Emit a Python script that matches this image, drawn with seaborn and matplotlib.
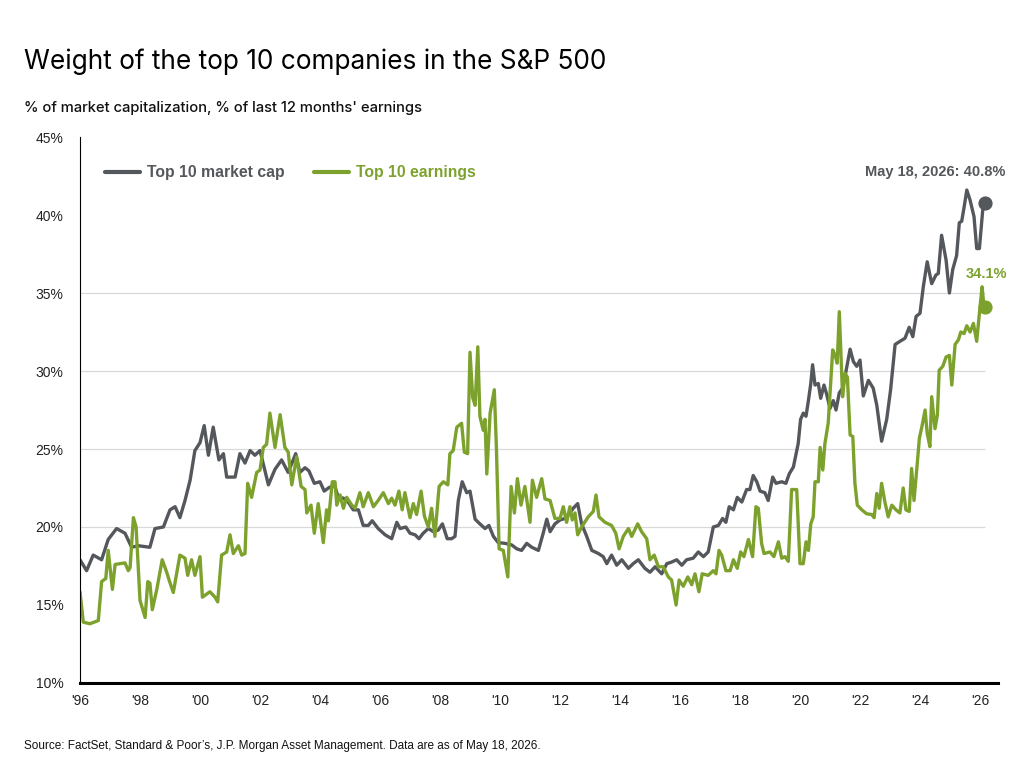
import pandas as pd
import matplotlib.pyplot as plt
import seaborn as sns
from matplotlib.ticker import FixedLocator

# Top 10 market cap, % of S&P 500 market capitalization
cap_years = [
    1996.00, 1996.22, 1996.44, 1996.72, 1996.94, 1997.22, 1997.50, 1997.72, 1997.94, 1998.33,
    1998.50, 1998.78, 1999.00, 1999.17, 1999.33, 1999.50, 1999.67, 1999.83, 2000.00, 2000.14,
    2000.28, 2000.44, 2000.63, 2000.78, 2000.89, 2001.17, 2001.33, 2001.50, 2001.67, 2001.83,
    2002.00, 2002.28, 2002.50, 2002.72, 2002.94, 2003.19, 2003.33, 2003.50, 2003.63, 2003.81,
    2004.00, 2004.14, 2004.28, 2004.48, 2004.61, 2004.78, 2004.94, 2005.11, 2005.28, 2005.44,
    2005.61, 2005.74, 2005.94, 2006.17, 2006.39, 2006.56, 2006.67, 2006.86, 2007.00, 2007.17,
    2007.30, 2007.44, 2007.61, 2007.78, 2007.94, 2008.08, 2008.24, 2008.39, 2008.50, 2008.61,
    2008.74, 2008.89, 2009.00, 2009.17, 2009.33, 2009.50, 2009.63, 2009.78, 2009.94, 2010.17,
    2010.39, 2010.56, 2010.72, 2010.89, 2011.06, 2011.28, 2011.44, 2011.56, 2011.67, 2011.83,
    2012.00, 2012.17, 2012.33, 2012.44, 2012.59, 2012.72, 2012.89, 2013.06, 2013.28, 2013.44,
    2013.56, 2013.72, 2013.89, 2014.06, 2014.28, 2014.44, 2014.61, 2014.83, 2015.00, 2015.17,
    2015.39, 2015.56, 2015.72, 2015.89, 2016.06, 2016.22, 2016.44, 2016.61, 2016.78, 2016.94,
    2017.11, 2017.28, 2017.42, 2017.53, 2017.64, 2017.78, 2017.91, 2018.06, 2018.22, 2018.33,
    2018.44, 2018.56, 2018.67, 2018.83, 2018.94, 2019.09, 2019.20, 2019.39, 2019.53, 2019.64,
    2019.78, 2019.89, 2019.94, 2020.02, 2020.11, 2020.20, 2020.28, 2020.36, 2020.42, 2020.50,
    2020.61, 2020.69, 2020.80, 2020.89, 2021.00, 2021.11, 2021.20, 2021.31, 2021.42, 2021.53,
    2021.67, 2021.78, 2021.89, 2022.00, 2022.11, 2022.28, 2022.44, 2022.56, 2022.72, 2022.89,
    2023.02, 2023.17, 2023.33, 2023.50, 2023.64, 2023.76, 2023.87, 2024.00, 2024.11, 2024.24,
    2024.39, 2024.53, 2024.61, 2024.72, 2024.87, 2024.98, 2025.09, 2025.22, 2025.31, 2025.39,
    2025.47, 2025.56, 2025.67, 2025.80, 2025.89, 2025.98, 2026.09, 2026.17,
]
cap_values = [
    17.9, 17.2, 18.2, 17.9, 19.2, 19.9, 19.6, 18.7, 18.8, 18.7,
    19.9, 20.0, 21.1, 21.3, 20.6, 21.7, 23.0, 24.9, 25.4, 26.5,
    24.6, 26.4, 24.3, 24.7, 23.2, 23.2, 24.7, 24.1, 24.9, 24.6,
    24.9, 22.7, 23.7, 24.3, 23.5, 24.7, 23.5, 23.8, 23.6, 22.8,
    22.9, 22.3, 22.5, 22.7, 21.9, 21.85, 21.6, 21.1, 21.1, 20.1,
    20.1, 20.4, 19.9, 19.5, 19.25, 20.3, 19.9, 20.0, 19.6, 19.5,
    19.25, 19.6, 19.9, 19.7, 19.8, 20.2, 19.25, 19.25, 19.4, 21.7,
    22.9, 22.2, 22.3, 20.5, 20.2, 19.9, 20.1, 19.4, 19.0, 18.95,
    18.85, 18.6, 18.5, 18.95, 18.7, 18.5, 19.6, 20.5, 19.7, 20.2,
    20.45, 20.55, 20.9, 21.2, 21.5, 20.2, 19.4, 18.5, 18.3, 18.1,
    17.65, 18.2, 17.55, 17.9, 17.35, 17.65, 17.9, 17.35, 17.1, 17.45,
    17.0, 17.65, 17.75, 17.9, 17.55, 17.9, 18.0, 18.4, 18.1, 18.4,
    20.0, 20.1, 20.55, 20.3, 21.3, 21.1, 21.9, 21.6, 22.4, 22.4,
    23.3, 22.9, 22.3, 22.2, 21.7, 23.2, 22.8, 22.9, 22.8, 23.4,
    23.85, 24.9, 25.35, 26.9, 27.3, 27.1, 28.1, 29.2, 30.4, 29.1,
    29.2, 28.25, 29.1, 28.5, 27.6, 28.1, 27.5, 28.6, 28.9, 29.95,
    31.4, 30.6, 30.3, 30.7, 28.4, 29.4, 28.9, 27.8, 25.5, 26.9,
    28.8, 31.7, 31.9, 32.1, 32.8, 32.2, 33.5, 33.7, 35.4, 37.0,
    35.6, 36.15, 36.25, 38.7, 37.1, 35.0, 36.5, 37.4, 39.5, 39.6,
    40.5, 41.6, 40.95, 39.9, 37.85, 37.85, 40.3, 40.8,
]

# Top 10 earnings, % of S&P 500 last 12 months' earnings
earn_years = [
    1996.00, 1996.11, 1996.33, 1996.61, 1996.72, 1996.86, 1996.94, 1997.08, 1997.17, 1997.50,
    1997.61, 1997.67, 1997.78, 1997.87, 1998.00, 1998.17, 1998.26, 1998.33, 1998.41, 1998.56,
    1998.74, 1998.89, 1998.97, 1999.11, 1999.33, 1999.50, 1999.59, 1999.72, 1999.83, 2000.00,
    2000.08, 2000.33, 2000.50, 2000.59, 2000.72, 2000.89, 2001.00, 2001.11, 2001.28, 2001.39,
    2001.50, 2001.59, 2001.72, 2001.89, 2002.00, 2002.11, 2002.22, 2002.33, 2002.50, 2002.67,
    2002.83, 2002.94, 2003.06, 2003.22, 2003.37, 2003.50, 2003.56, 2003.70, 2003.81, 2003.94,
    2004.11, 2004.22, 2004.28, 2004.41, 2004.50, 2004.56, 2004.67, 2004.78, 2004.89, 2005.06,
    2005.17, 2005.33, 2005.44, 2005.61, 2005.78, 2005.94, 2006.11, 2006.28, 2006.39, 2006.50,
    2006.63, 2006.74, 2006.83, 2007.00, 2007.11, 2007.22, 2007.37, 2007.48, 2007.61, 2007.72,
    2007.83, 2007.97, 2008.11, 2008.26, 2008.33, 2008.44, 2008.56, 2008.72, 2008.81, 2008.92,
    2009.00, 2009.09, 2009.17, 2009.26, 2009.33, 2009.44, 2009.50, 2009.56, 2009.67, 2009.81,
    2009.88, 2009.97, 2010.11, 2010.26, 2010.37, 2010.48, 2010.58, 2010.70, 2010.83, 2011.00,
    2011.08, 2011.22, 2011.39, 2011.50, 2011.67, 2011.83, 2012.00, 2012.11, 2012.22, 2012.33,
    2012.41, 2012.50, 2012.59, 2012.72, 2012.94, 2013.11, 2013.20, 2013.30, 2013.50, 2013.72,
    2013.86, 2013.97, 2014.11, 2014.28, 2014.39, 2014.59, 2014.72, 2014.89, 2015.00, 2015.14,
    2015.28, 2015.44, 2015.61, 2015.72, 2015.87, 2015.97, 2016.11, 2016.26, 2016.39, 2016.50,
    2016.63, 2016.74, 2016.94, 2017.11, 2017.20, 2017.30, 2017.39, 2017.53, 2017.67, 2017.78,
    2017.91, 2018.02, 2018.13, 2018.28, 2018.42, 2018.53, 2018.61, 2018.72, 2018.80, 2019.00,
    2019.13, 2019.28, 2019.39, 2019.50, 2019.61, 2019.72, 2019.89, 2020.00, 2020.11, 2020.20,
    2020.28, 2020.36, 2020.44, 2020.50, 2020.61, 2020.67, 2020.76, 2020.83, 2020.94, 2021.02,
    2021.09, 2021.17, 2021.24, 2021.31, 2021.42, 2021.50, 2021.58, 2021.67, 2021.76, 2021.83,
    2021.91, 2022.06, 2022.22, 2022.39, 2022.47, 2022.56, 2022.64, 2022.72, 2022.83, 2022.94,
    2023.06, 2023.20, 2023.33, 2023.44, 2023.53, 2023.64, 2023.72, 2023.80, 2023.89, 2023.98,
    2024.06, 2024.17, 2024.24, 2024.33, 2024.39, 2024.50, 2024.58, 2024.64, 2024.76, 2024.87,
    2024.98, 2025.06, 2025.17, 2025.28, 2025.36, 2025.47, 2025.56, 2025.67, 2025.78, 2025.89,
    2025.98, 2026.07, 2026.12, 2026.17,
]
earn_values = [
    15.85, 13.9, 13.8, 14.0, 16.5, 16.7, 18.5, 16.0, 17.6, 17.7,
    17.2, 17.4, 20.6, 20.0, 15.3, 14.2, 16.5, 16.4, 14.7, 16.0,
    17.9, 17.1, 16.6, 15.8, 18.2, 18.0, 16.9, 17.9, 16.9, 18.1,
    15.5, 15.85, 15.5, 15.2, 18.2, 18.4, 19.5, 18.3, 18.8, 18.2,
    18.3, 22.8, 21.9, 23.5, 23.65, 25.1, 25.3, 27.3, 25.1, 27.2,
    25.1, 24.8, 22.7, 24.5, 22.6, 22.4, 20.9, 21.4, 19.6, 21.5,
    19.0, 21.1, 20.4, 22.9, 22.9, 21.4, 22.05, 21.2, 21.9, 21.4,
    21.2, 22.2, 21.3, 22.2, 21.3, 21.7, 22.2, 21.5, 21.85, 21.4,
    22.3, 21.1, 22.2, 20.6, 21.5, 20.8, 22.3, 20.7, 20.0, 21.2,
    19.4, 22.6, 22.9, 22.7, 24.7, 24.9, 26.4, 26.65, 24.8, 24.7,
    31.2, 28.3, 27.8, 31.55, 27.1, 26.2, 26.9, 23.4, 27.3, 28.8,
    25.1, 18.6, 18.5, 16.8, 22.6, 20.9, 23.1, 21.4, 22.6, 20.3,
    23.0, 21.9, 23.1, 21.8, 21.7, 20.55, 20.55, 21.3, 20.3, 21.3,
    20.45, 20.9, 19.5, 20.0, 20.65, 21.0, 22.05, 20.65, 20.3, 20.1,
    19.6, 18.6, 19.4, 19.9, 19.4, 20.2, 19.7, 19.25, 17.9, 18.2,
    17.45, 17.45, 16.8, 16.6, 15.0, 16.6, 16.2, 16.8, 16.3, 17.0,
    15.85, 17.0, 16.9, 17.2, 17.0, 18.5, 18.2, 17.2, 17.2, 17.9,
    17.35, 18.4, 18.1, 19.2, 18.1, 21.3, 21.2, 18.95, 18.3, 18.4,
    18.1, 19.05, 18.0, 18.1, 17.8, 22.4, 22.4, 17.65, 17.65, 19.05,
    18.5, 20.2, 20.65, 22.9, 22.9, 25.1, 23.65, 25.35, 26.65, 29.2,
    31.35, 31.0, 30.5, 33.8, 28.35, 29.85, 29.6, 25.9, 25.8, 22.8,
    21.4, 21.1, 20.85, 20.8, 20.6, 22.15, 21.2, 22.8, 21.6, 20.65,
    21.4, 21.1, 20.9, 22.5, 21.1, 21.0, 23.75, 21.7, 23.65, 25.7,
    26.4, 27.5, 26.0, 25.15, 28.35, 26.3, 27.2, 30.05, 30.3, 30.9,
    31.0, 29.1, 31.7, 32.0, 32.5, 32.4, 32.9, 32.5, 33.05, 31.9,
    33.7, 35.4, 34.35, 34.1,
]

year_ticks = list(range(1996, 2027, 2))
tick_labels = ["'" + str(y)[2:] for y in year_ticks]
pct_ticks = [10, 15, 20, 25, 30, 35, 40, 45]
grid_levels = [20, 25, 30, 35]

GREY = "#54575B"
GREEN = "#7CA22D"

cap_df = pd.DataFrame({"year": cap_years, "value": cap_values})
earn_df = pd.DataFrame({"year": earn_years, "value": earn_values})

sns.set_style("white")
plt.rcParams["font.family"] = ["Liberation Sans", "DejaVu Sans"]

fig = plt.figure(figsize=(10.33, 7.75), dpi=100)
ax = fig.add_axes([80 / 1033, 1 - 683 / 775, 918 / 1033, 546 / 775])

# light horizontal guides, stopping at the last data point
ax.hlines(grid_levels, 1996, cap_years[-1], colors="#D9D9D9", linewidth=0.9, zorder=0)

sns.lineplot(data=cap_df, x="year", y="value", color=GREY, linewidth=2.4,
             label="Top 10 market cap", ax=ax, estimator=None)
sns.lineplot(data=earn_df, x="year", y="value", color=GREEN, linewidth=2.4,
             label="Top 10 earnings", ax=ax, estimator=None)

ax.scatter([cap_years[-1]], [cap_values[-1]], s=85, color=GREY, zorder=5)
ax.scatter([earn_years[-1]], [earn_values[-1]], s=85, color=GREEN, zorder=5)

ax.set_xlim(1996, 1996 + 918 / 30)
ax.set_ylim(10, 45)
ax.xaxis.set_major_locator(FixedLocator(year_ticks))
ax.set_xticklabels(tick_labels)
ax.yaxis.set_major_locator(FixedLocator(pct_ticks))
ax.set_yticklabels([f"{p}%" for p in pct_ticks])
ax.set_xlabel("")
ax.set_ylabel("")
ax.tick_params(axis="x", length=3, width=0.8, color="#999999", pad=5, labelsize=10, labelcolor="#222222")
ax.tick_params(axis="y", length=0, pad=12, labelsize=10, labelcolor="#222222")

for side in ["top", "right"]:
    ax.spines[side].set_visible(False)
ax.spines["left"].set_color("black")
ax.spines["left"].set_linewidth(0.8)
ax.spines["bottom"].set_color("black")
ax.spines["bottom"].set_linewidth(2.2)

leg = ax.legend(loc="center left", bbox_to_anchor=(105 / 1033, 1 - 173 / 775),
                bbox_transform=fig.transFigure, ncol=2, frameon=False,
                borderpad=0, borderaxespad=0, handlelength=2.2, handletextpad=0.45,
                columnspacing=1.9, prop={"weight": "bold", "size": 11.3})
for line in leg.get_lines():
    line.set_linewidth(3)
for text, col in zip(leg.get_texts(), [GREY, GREEN]):
    text.set_color(col)

fig.text(1005 / 1033, 1 - 172 / 775, "May 18, 2026: 40.8%", ha="right", va="center",
         fontsize=10.5, fontweight="bold", color=GREY)
fig.text(1007 / 1033, 1 - 274 / 775, "34.1%", ha="right", va="center",
         fontsize=10.5, fontweight="bold", color=GREEN)

fig.text(24 / 1033, 1 - 62 / 775, "Weight of the top 10 companies in the S&P 500",
         ha="left", va="center", fontsize=18.9, family=["Inter", "DejaVu Sans"], color="black")
fig.text(24 / 1033, 1 - 108 / 775, "% of market capitalization, % of last 12 months' earnings",
         ha="left", va="center", fontsize=10.6, family=["Inter", "DejaVu Sans"],
         fontweight="medium", color="#111111")
fig.text(24 / 1033, 1 - 746 / 775,
         "Source: FactSet, Standard & Poor\u2019s, J.P. Morgan Asset Management. Data are as of May 18, 2026.",
         ha="left", va="center", fontsize=8.45, color="#111111")

fig.savefig("out.png", dpi=100)
plt.close(fig)
